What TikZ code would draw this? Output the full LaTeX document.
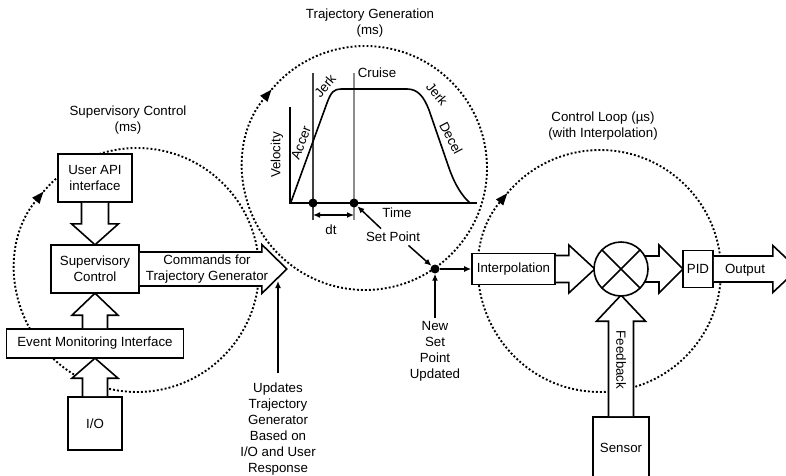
\documentclass[tikz,border=0pt]{standalone}
\usepackage{fontspec}
\setmainfont{Liberation Sans}
\usetikzlibrary{arrows.meta}
\usetikzlibrary{positioning}

% hollow block arrow: length, shaft half width, head length, head half width
\tikzset{
  pics/fat/.style n args={4}{code={
    \filldraw[fatline] (0,-#2) -- ({#1-#3},-#2) -- ({#1-#3},-#4)
      -- (#1,0) -- ({#1-#3},#4) -- ({#1-#3},#2) -- (0,#2);
  }}
}

\begin{document}
\begin{tikzpicture}[x=1pt, y=1pt,
    font=\fontsize{13.3pt}{16pt}\selectfont,
    box/.style={draw, fill=white, line width=1.6pt, align=center, inner sep=2pt},
    fatline/.style={draw, fill=white, line width=1.6pt},
    dotring/.style={line width=1.9pt, dash pattern=on 1.9pt off 2.1pt,
      -{Triangle[length=12pt, width=9pt]}},
    thinarrow/.style={line width=1.5pt, -{Latex[length=7pt, width=6pt]}},
    dot/.style={circle, fill, inner sep=0, minimum size=9pt},
    chartline/.style={line width=1.8pt},
    sumnode/.style={circle, draw, fill=white, line width=1.6pt, minimum size=54pt,
      inner sep=0, path picture={
        \draw[line width=1.6pt] (path picture bounding box.north west) -- (path picture bounding box.south east)
          (path picture bounding box.north east) -- (path picture bounding box.south west);}}
  ]
  \path[clip, use as bounding box] (0,0) rectangle (786,475);

  % the three loops
  \coordinate (supc) at (137,205);
  \coordinate (trajc) at (365,307);
  \coordinate (loopc) at (600,204);
  \draw[dotring] (supc) ++(140:122) arc[start angle=500, end angle=140, radius=122];
  \draw[dotring] (trajc) ++(140:122) arc[start angle=500, end angle=140, radius=122];
  \draw[dotring] (loopc) ++(140:121) arc[start angle=500, end angle=140, radius=121];

  \node[align=center] (suptitle) at (128,355) {Supervisory Control\\(ms)};
  \node[align=center] (trajtitle) at (370,452) {Trajectory Generation\\(ms)};
  \node[align=center] (looptitle) at (603,349) {Control Loop (µs)\\(with Interpolation)};

  % supervisory side
  \node[box, minimum width=74pt, minimum height=48pt] (api) at (95,297) {User API\\interface};
  \node[box, minimum width=88pt, minimum height=48pt] (sup) at (95,206) {Supervisory\\Control};
  \node[box, minimum width=177pt, minimum height=29pt] (event) at (95,131.5) {Event Monitoring Interface};
  \node[box, minimum width=54pt, minimum height=53pt] (io) at (95,51.5) {I/O};

  \pic[rotate=-90] at (api.south) {fat={42}{13.5}{21}{23.5}};
  \pic[rotate=90] at (event.north) {fat={35}{12.5}{22}{23}};
  \pic[rotate=90] at (io.north) {fat={38}{12.5}{20}{23}};
  \pic at (sup.east) {fat={147}{17}{25}{24.5}};
  \node[align=center] (cmd) at (207,206) {Commands for\\Trajectory Generator};

  \coordinate (cmdfoot) at (278,194);
  \node[align=center] (upd) at (278,46) {Updates\\Trajectory\\Generator\\Based on\\I/O and User\\Response};
  \draw[thinarrow] ([yshift=6pt]upd.north) -- (cmdfoot);

  % velocity profile
  \coordinate (o) at (290,272);
  \draw[chartline] (290,368) -- (o) -- (477,272);
  \draw[chartline, black!75] (313,402) -- (313,255);
  \draw[chartline, black!45] (354,402) -- (354,255);
  \node[dot] (t1) at (313,272) {};
  \node[dot] (t2) at (354,272) {};
  \draw[line width=1.5pt, {Latex[length=7pt, width=6pt]}-{Latex[length=7pt, width=6pt]}]
    ([yshift=-12pt]t1.center) -- ([yshift=-12pt]t2.center);
  \draw[line width=1.6pt, line join=round] (291,273) -- (327,372)
    .. controls (331,383) and (334,386) .. (341,386) -- (407,386)
    .. controls (418,386) and (424,378) .. (429,365) -- (449,307)
    .. controls (455,290) and (462,279) .. (470,272);

  \node[rotate=90] (vel) at (277,320) {Velocity};
  \node[rotate=69] (acc) at (301,332) {Accer};
  \node[rotate=50] (jerkup) at (325,389) {Jerk};
  \node (cruise) at (377,402) {Cruise};
  \node[rotate=-50] (jerkdown) at (437,381) {Jerk};
  \node[rotate=-62] (decel) at (451,337) {Decel};
  \node (time) at (397,262) {Time};
  \node (dt) at (331,245) {dt};
  \node (setpt) at (393,238) {Set Point};

  % control loop
  \node[box, minimum width=83pt, minimum height=31pt] (interp) at (513.5,206) {Interpolation};
  \node[box, minimum width=30pt, minimum height=37pt, inner sep=1pt] (pid) at (698,206) {PID};
  \node[box, minimum width=56pt, minimum height=61pt] (sensor) at (621,27.5) {Sensor};
  \coordinate (sumc) at (621,206);

  \node[dot] (jn) at (435,206) {};
  \draw[thinarrow] ([xshift=-12pt]setpt.north) -- (t2);
  \draw[thinarrow] ([xshift=-15pt]setpt.south east) -- (jn);
  \draw[thinarrow] (jn) -- (interp);
  \node[align=center] (nsp) at (435,124) {New\\Set\\Point\\Updated};
  \draw[thinarrow] (nsp) -- (jn);

  \pic at (interp.east) {fat={39}{13.5}{26}{24}};
  \pic at ([xshift=23pt]sumc) {fat={39}{13}{24}{24}};
  \pic at (pid.east) {fat={84}{13}{25}{23.5}};
  \pic[rotate=90] at (sensor.north) {fat={121}{12.5}{26}{24.5}};
  \node (out) at (745,205) {Output};
  \node[rotate=-90] (fb) at (621,115) {Feedback};
  \node[sumnode] (sum) at (sumc) {};
\end{tikzpicture}
\end{document}
